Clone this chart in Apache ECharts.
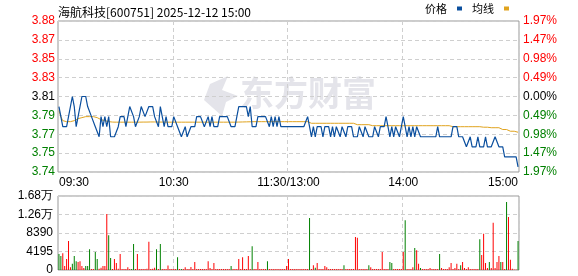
<!DOCTYPE html>
<html><head><meta charset="utf-8">
<script src="https://cdn.jsdelivr.net/npm/echarts@6/dist/echarts.min.js"></script>
<style>html,body{margin:0;padding:0;background:#fff}#c{width:578px;height:276px}</style>
</head><body><div id="c"></div>
<script>
const chartTitle = '海航科技[600751] 2025-12-12 15:00';
const legendNames = ['价格', '均线'];
const xTickLabels = ['09:30', '10:30', '11:30/13:00', '14:00', '15:00'];
const priceTickLabels = ['3.74', '3.75', '3.77', '3.79', '3.81', '3.83', '3.85', '3.87', '3.88'];
const pctTickLabels = ['1.97%', '1.47%', '0.98%', '0.49%', '0.00%', '0.49%', '0.98%', '1.47%', '1.97%'];
const volTickLabels = ['0', '4195', '8390', '1.26万', '1.68万'];
const priceAxisMin = 3.735;
const priceAxisMax = 3.885;
const volAxisMax = 16780;
const volAxisStep = 4195;

const price = [
 3.80,3.79,3.78,3.78,3.78,3.79,3.79,3.81,3.80,3.78,
 3.79,3.80,3.81,3.81,3.81,3.80,3.80,3.79,3.79,3.78,
 3.78,3.77,3.79,3.78,3.79,3.78,3.79,3.77,3.77,3.77,
 3.77,3.78,3.79,3.79,3.79,3.78,3.79,3.80,3.80,3.79,
 3.78,3.78,3.79,3.80,3.80,3.79,3.79,3.80,3.80,3.80,
 3.79,3.79,3.78,3.80,3.79,3.78,3.79,3.78,3.78,3.78,
 3.79,3.79,3.78,3.78,3.77,3.77,3.78,3.77,3.77,3.78,
 3.78,3.78,3.79,3.79,3.79,3.79,3.78,3.78,3.79,3.78,
 3.79,3.78,3.78,3.78,3.79,3.79,3.79,3.79,3.79,3.79,
 3.78,3.78,3.78,3.79,3.80,3.80,3.80,3.80,3.80,3.79,
 3.80,3.78,3.78,3.78,3.79,3.79,3.79,3.79,3.79,3.79,
 3.78,3.79,3.78,3.79,3.78,3.79,3.78,3.78,3.78,3.78,
 3.78,3.78,3.78,3.78,3.78,3.78,3.78,3.78,3.78,3.78,
 3.79,3.78,3.77,3.78,3.77,3.78,3.78,3.78,3.77,3.78,
 3.78,3.78,3.77,3.78,3.77,3.78,3.78,3.77,3.78,3.78,
 3.77,3.78,3.78,3.78,3.77,3.77,3.77,3.78,3.78,3.77,
 3.78,3.78,3.77,3.77,3.77,3.78,3.78,3.77,3.78,3.78,
 3.78,3.79,3.78,3.77,3.78,3.77,3.78,3.78,3.77,3.78,
 3.79,3.78,3.77,3.78,3.77,3.78,3.77,3.78,3.78,3.77,
 3.77,3.77,3.77,3.77,3.77,3.77,3.77,3.77,3.78,3.77,
 3.77,3.77,3.77,3.77,3.77,3.77,3.78,3.78,3.78,3.77,
 3.77,3.77,3.77,3.76,3.76,3.77,3.76,3.76,3.76,3.77,
 3.76,3.76,3.76,3.77,3.76,3.76,3.76,3.76,3.77,3.77,
 3.76,3.76,3.76,3.75,3.75,3.75,3.75,3.75,3.75,3.75,
 3.74
];

const avgPrice = [
 3.796,3.790,3.786,3.785,3.785,3.785,3.785,3.786,3.786,3.787,
 3.788,3.789,3.789,3.790,3.790,3.790,3.790,3.790,3.790,3.789,
 3.789,3.788,3.787,3.787,3.786,3.785,3.785,3.785,3.7846,3.7845,
 3.7845,3.7845,3.7845,3.7845,3.7845,3.7845,3.7845,3.7845,3.7845,3.7845,
 3.7845,3.7845,3.7845,3.7846,3.7846,3.7846,3.7846,3.7847,3.7847,3.7847,
 3.7847,3.7846,3.7846,3.7846,3.7846,3.7846,3.7845,3.7845,3.7845,3.7845,
 3.7845,3.7845,3.7845,3.7845,3.7845,3.7845,3.7845,3.7845,3.7845,3.7845,
 3.7845,3.7845,3.7845,3.7845,3.7845,3.7845,3.7845,3.7845,3.7845,3.7845,
 3.7845,3.7845,3.7845,3.7845,3.7845,3.7845,3.7845,3.7845,3.7845,3.7845,
 3.7845,3.7845,3.7845,3.7845,3.7846,3.7846,3.7847,3.7847,3.7848,3.7848,
 3.7849,3.785,3.785,3.785,3.785,3.785,3.785,3.785,3.785,3.785,
 3.785,3.785,3.785,3.785,3.785,3.785,3.785,3.785,3.785,3.785,
 3.785,3.785,3.785,3.785,3.785,3.785,3.785,3.785,3.785,3.785,
 3.785,3.7834,3.7834,3.7834,3.7834,3.7834,3.7834,3.7834,3.7834,3.7834,
 3.7834,3.7834,3.7834,3.7834,3.7834,3.7834,3.7834,3.7834,3.7834,3.7834,
 3.7834,3.7834,3.7834,3.7834,3.7834,3.782,3.782,3.782,3.782,3.782,
 3.782,3.782,3.782,3.781,3.781,3.781,3.781,3.781,3.781,3.781,
 3.781,3.781,3.781,3.781,3.781,3.781,3.781,3.781,3.781,3.781,
 3.781,3.781,3.781,3.781,3.781,3.781,3.781,3.781,3.781,3.781,
 3.781,3.781,3.781,3.781,3.781,3.781,3.781,3.781,3.781,3.781,
 3.781,3.781,3.781,3.781,3.781,3.780,3.780,3.780,3.780,3.780,
 3.780,3.780,3.780,3.780,3.780,3.780,3.780,3.780,3.780,3.780,
 3.780,3.780,3.7795,3.7795,3.7795,3.7795,3.779,3.779,3.779,3.779,
 3.779,3.7772,3.7772,3.7772,3.7772,3.7755,3.7755,3.7755,3.7755,3.7755,
 3.7745
];

const volume = [
 3600,3200,3800,900,2500,6600,600,1400,3200,2000,
 1800,2000,900,450,900,900,4700,200,200,4100,
 2500,300,500,900,900,12700,7900,2700,200,2500,
 1600,300,3600,250,250,250,600,250,200,5900,
 250,3600,200,250,200,250,300,6400,250,300,
 500,4700,200,5900,250,200,250,1000,250,250,
 200,200,2900,250,200,250,600,250,200,700,
 250,1800,250,250,200,250,250,200,2000,450,
 250,1600,250,250,200,250,250,200,250,250,
 900,250,200,250,2500,250,2900,250,200,3200,
 250,5400,250,200,1800,250,250,200,250,2000,
 250,200,250,250,200,250,250,200,250,900,
 2500,250,250,200,250,250,200,250,250,200,
 250,11800,250,1100,500,1600,250,250,200,900,
 600,250,200,250,250,200,250,250,200,1100,
 250,250,200,250,250,7500,7300,250,200,250,
 250,200,1100,600,250,200,250,250,200,4100,
 250,250,200,1800,1600,250,250,200,250,250,
 4100,11300,250,200,250,600,5000,4500,1400,450,
 250,200,250,250,450,250,200,250,250,3600,
 450,250,200,250,600,1600,250,450,1400,250,
 1100,1800,450,250,600,250,200,250,250,250,
 7000,3400,8200,1600,450,1800,450,10700,450,1800,
 3200,1800,1800,250,15400,12000,2300,300,100,100,
 6600
];

// 1 = up (red), 0 = down (green)
const volUp = [
 0,0,1,1,1,1,1,0,0,0,
 1,1,1,1,0,0,0,1,1,0,
 0,1,1,1,1,1,0,0,1,1,
 1,1,1,1,1,1,1,1,0,0,
 1,1,1,1,1,1,1,1,1,1,
 1,0,1,0,1,1,1,1,1,1,
 1,1,0,1,0,1,1,1,1,1,
 1,1,1,1,1,1,1,1,1,1,
 1,1,1,1,1,1,1,1,1,1,
 0,1,1,1,1,1,1,1,1,1,
 1,0,1,1,1,1,1,1,1,0,
 1,1,1,1,1,1,1,1,1,1,
 1,1,1,1,1,1,1,1,1,1,
 1,0,1,1,0,1,1,1,1,1,
 1,1,1,1,1,1,1,1,1,0,
 1,1,1,1,1,1,1,1,1,1,
 1,1,0,1,1,1,1,1,1,1,
 1,1,1,0,0,1,1,1,1,1,
 1,0,1,1,1,1,0,1,1,0,
 1,1,1,1,1,1,1,1,1,0,
 1,1,1,1,1,1,1,1,1,1,
 0,1,1,1,1,1,1,1,1,1,
 0,1,1,1,1,0,1,1,1,1,
 1,0,1,1,0,1,1,1,1,1,
 0
];

function two(n){ return (n < 10 ? '0' : '') + n; }
const minutes = [];
for (let m = 9*60+30; m <= 11*60+30; m++) minutes.push(two(Math.floor(m/60)) + ':' + two(m%60));
for (let m = 13*60+1; m <= 15*60; m++) minutes.push(two(Math.floor(m/60)) + ':' + two(m%60));

const RED = '#ff0000', GREEN = '#008000', BLACK = '#000000';
const font = '"Liberation Sans", Arial, sans-serif';
const cjk = '"Noto Sans CJK SC", sans-serif';
const dashStyle = { color: '#cfcfcf', type: [4, 3], width: 1 };
function sideColor(v) { const i = Math.round(Number(v)); return i < 4 ? GREEN : (i === 4 ? BLACK : RED); }
function vline(i) { return i > 0 && i < 240 && i % 60 === 0; }

const chart = echarts.init(document.getElementById('c'), null, { renderer: 'canvas' });
chart.setOption({
  animation: false,
  backgroundColor: '#ffffff',
  title: { text: chartTitle, left: 53, top: 1, textStyle: { fontSize: 12, fontWeight: 'normal', color: '#000', fontFamily: cjk } },
  legend: {
    data: legendNames, right: 69, top: 3, padding: 0, align: 'right', icon: 'rect',
    itemWidth: 5, itemHeight: 4, itemGap: 10,
    textStyle: { fontSize: 11, color: '#000', fontFamily: cjk, padding: [0, 5, 0, 0] }
  },
  graphic: [
    { type: 'polygon', z: -10, shape: { points: [[222, 116], [204, 100], [210, 84], [228, 76], [222, 90], [238, 96], [226, 102]] }, style: { fill: '#e4e4ea' } },
    { type: 'text', left: 240, top: 76, z: -10, style: { text: '东方财富', fill: '#e4e4ea', font: 'bold 34px "Noto Sans CJK SC", sans-serif' } }
  ],
  grid: [
    { left: 58, right: 59, top: 21, height: 151, show: true, borderColor: '#999', borderWidth: 1, backgroundColor: 'transparent' },
    { left: 58, right: 59, top: 196, height: 74, show: true, borderColor: '#999', borderWidth: 1, backgroundColor: 'transparent' }
  ],
  xAxis: [
    {
      type: 'category', gridIndex: 0, data: minutes, boundaryGap: true,
      axisLine: { show: false }, axisTick: { show: false },
      axisLabel: {
        interval: function (i) { return i % 60 === 0; },
        formatter: function (v, i) { return xTickLabels[Math.round(i / 60)]; },
        color: '#000', fontSize: 12, fontFamily: font, margin: 5,
        showMinLabel: true, showMaxLabel: true, alignMinLabel: 'left', alignMaxLabel: 'right'
      },
      splitLine: { show: true, interval: vline, lineStyle: dashStyle }
    },
    {
      type: 'category', gridIndex: 1, data: minutes, boundaryGap: true,
      axisLine: { show: false }, axisTick: { show: false }, axisLabel: { show: false },
      splitLine: { show: true, interval: vline, lineStyle: dashStyle }
    }
  ],
  yAxis: [
    {
      type: 'value', gridIndex: 0, position: 'left', min: 0, max: 8, interval: 1,
      axisLine: { show: false }, axisTick: { show: false },
      axisLabel: { formatter: function (v) { return priceTickLabels[Math.round(v)]; }, color: sideColor, fontSize: 12, fontFamily: font, margin: 3 },
      splitLine: { show: true, lineStyle: dashStyle }
    },
    {
      type: 'value', gridIndex: 0, position: 'right', min: 0, max: 8, interval: 1,
      axisLine: { show: false }, axisTick: { show: false },
      axisLabel: { formatter: function (v) { return pctTickLabels[Math.round(v)]; }, color: sideColor, fontSize: 12, fontFamily: font, margin: 4 },
      splitLine: { show: false }
    },
    { type: 'value', gridIndex: 0, min: priceAxisMin, max: priceAxisMax, show: false, splitLine: { show: false } },
    {
      type: 'value', gridIndex: 1, min: 0, max: volAxisMax, interval: volAxisStep,
      axisLine: { show: false }, axisTick: { show: false },
      axisLabel: { formatter: function (v) { return volTickLabels[Math.round(v / volAxisStep)]; }, color: '#000', fontSize: 12, fontFamily: font, margin: 5 },
      splitLine: { show: true, lineStyle: dashStyle }
    }
  ],
  series: [
    { name: '均线', type: 'line', xAxisIndex: 0, yAxisIndex: 2, data: avgPrice, showSymbol: false, color: '#e0a31e', lineStyle: { width: 1 }, z: 3 },
    { name: '价格', type: 'line', xAxisIndex: 0, yAxisIndex: 2, data: price, showSymbol: false, color: '#0b4f9e', lineStyle: { width: 1.2 }, z: 4 },
    {
      name: '成交量', type: 'bar', xAxisIndex: 1, yAxisIndex: 3, barWidth: 1,
      data: volume.map(function (v, i) { return { value: v, itemStyle: { color: volUp[i] ? RED : GREEN } }; })
    }
  ]
});
</script>
</body></html>
